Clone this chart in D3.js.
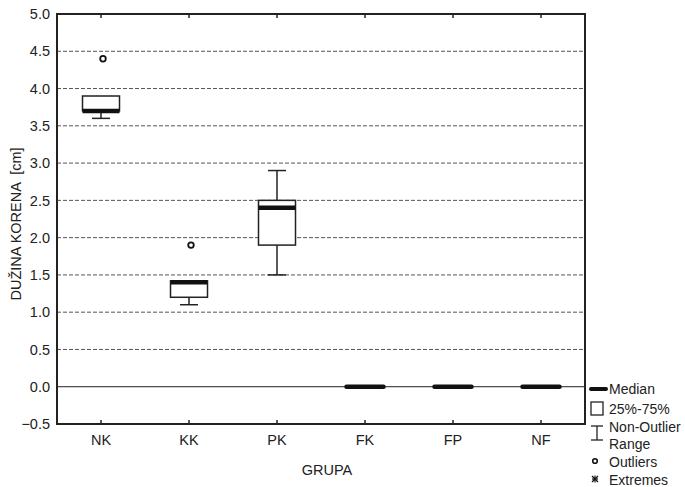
<!DOCTYPE html>
<html>
<head>
<meta charset="utf-8">
<script src="https://cdn.jsdelivr.net/npm/d3@7"></script>
<style>
  body { margin: 0; background: #fff; }
  text { font-family: "Liberation Sans", Arial, sans-serif; fill: #222; }
</style>
</head>
<body>
<div id="chart"></div>
<script>
// box plot data
var groups = ["NK", "KK", "PK", "FK", "FP", "NF"];
var q1 = [3.7, 1.2, 1.9, 0, 0, 0];
var medians = [3.7, 1.4, 2.4, 0, 0, 0];
var q3 = [3.9, 1.42, 2.5, 0, 0, 0];
var whiskerLow = [3.6, 1.1, 1.5, 0, 0, 0];
var whiskerHigh = [3.9, 1.42, 2.9, 0, 0, 0];
var outliers = [[4.4], [1.9], [], [], [], []];
var yTicks = [-0.5, 0, 0.5, 1, 1.5, 2, 2.5, 3, 3.5, 4, 4.5, 5];

var width = 685, height = 487;
var plotLeft = 57, plotRight = 585, plotTop = 14, plotBottom = 424;

var svg = d3.select("#chart").append("svg")
    .attr("width", width)
    .attr("height", height);

var x = d3.scaleBand().domain(groups).range([plotLeft, plotRight]).padding(0);
var y = d3.scaleLinear().domain([-0.5, 5]).range([plotBottom, plotTop]);
var boxW = 37;

// grid lines
svg.append("g").selectAll("line")
    .data(yTicks.filter(d => d > -0.5 && d < 5))
    .enter().append("line")
    .attr("x1", plotLeft).attr("x2", plotRight)
    .attr("y1", d => y(d)).attr("y2", d => y(d))
    .attr("stroke", d => d === 0 ? "#222" : "#555")
    .attr("stroke-width", 1)
    .attr("stroke-dasharray", d => d === 0 ? null : "4,2");

// y axis labels
var yAxis = d3.axisLeft(y).tickValues(yTicks).tickFormat(d3.format(".1f")).tickSize(0).tickPadding(7);
var gy = svg.append("g").attr("transform", "translate(" + plotLeft + ",0)").call(yAxis);
gy.select(".domain").remove();
gy.selectAll("text").style("font-size", "14.5px");

// x axis labels
var xAxis = d3.axisBottom(x).tickSize(0).tickPadding(11);
var gx = svg.append("g").attr("transform", "translate(0," + plotBottom + ")").call(xAxis);
gx.select(".domain").remove();
gx.selectAll("text").style("font-size", "14.5px");

// inner ticks top and bottom
groups.forEach(g => {
    var cx = x(g) + x.bandwidth() / 2;
    svg.append("line").attr("x1", cx).attr("x2", cx).attr("y1", plotBottom).attr("y2", plotBottom - 4)
        .attr("stroke", "#222").attr("stroke-width", 1.5);
    svg.append("line").attr("x1", cx).attr("x2", cx).attr("y1", plotTop).attr("y2", plotTop + 4)
        .attr("stroke", "#222").attr("stroke-width", 1.5);
});

// boxes
groups.forEach((g, i) => {
    var cx = x(g) + x.bandwidth() / 2;
    var gg = svg.append("g");
    if (q3[i] > q1[i]) {
        // whiskers
        gg.append("line").attr("x1", cx).attr("x2", cx)
            .attr("y1", y(whiskerLow[i])).attr("y2", y(q1[i]))
            .attr("stroke", "#222").attr("stroke-width", 1.5);
        gg.append("line").attr("x1", cx).attr("x2", cx)
            .attr("y1", y(whiskerHigh[i])).attr("y2", y(q3[i]))
            .attr("stroke", "#222").attr("stroke-width", 1.5);
        if (whiskerLow[i] < q1[i])
            gg.append("line").attr("x1", cx - 9).attr("x2", cx + 9)
                .attr("y1", y(whiskerLow[i])).attr("y2", y(whiskerLow[i]))
                .attr("stroke", "#222").attr("stroke-width", 1.5);
        if (whiskerHigh[i] > q3[i])
            gg.append("line").attr("x1", cx - 9).attr("x2", cx + 9)
                .attr("y1", y(whiskerHigh[i])).attr("y2", y(whiskerHigh[i]))
                .attr("stroke", "#222").attr("stroke-width", 1.5);
        gg.append("rect")
            .attr("x", cx - boxW / 2).attr("y", y(q3[i]))
            .attr("width", boxW).attr("height", y(q1[i]) - y(q3[i]))
            .attr("fill", "white").attr("stroke", "#222").attr("stroke-width", 1.5);
    }
    gg.append("line").attr("x1", cx - boxW / 2).attr("x2", cx + boxW / 2)
        .attr("y1", y(medians[i])).attr("y2", y(medians[i]))
        .attr("stroke", "#111").attr("stroke-width", 4.5)
        .attr("stroke-linecap", q3[i] > q1[i] ? "butt" : "round");
    outliers[i].forEach(o => {
        gg.append("circle").attr("cx", cx + 2).attr("cy", y(o)).attr("r", 2.8)
            .attr("fill", "white").attr("stroke", "#111").attr("stroke-width", 1.8);
    });
});

// frame
svg.append("rect").attr("x", plotLeft).attr("y", plotTop)
    .attr("width", plotRight - plotLeft).attr("height", plotBottom - plotTop)
    .attr("fill", "none").attr("stroke", "#222").attr("stroke-width", 2);

// axis titles
svg.append("text").attr("x", 327).attr("y", 475).attr("text-anchor", "middle")
    .style("font-size", "14.5px").text("GRUPA");
svg.append("text").attr("transform", "translate(21,224) rotate(-90)")
    .attr("text-anchor", "middle").style("font-size", "14.5px")
    .style("white-space", "pre").text("DUŽINA KORENA  [cm]");

// legend
var lg = svg.append("g");
lg.append("line").attr("x1", 591).attr("x2", 606).attr("y1", 389).attr("y2", 389)
    .attr("stroke", "#111").attr("stroke-width", 4).attr("stroke-linecap", "round");
lg.append("rect").attr("x", 591).attr("y", 402).attr("width", 12).attr("height", 13)
    .attr("fill", "white").attr("stroke", "#222").attr("stroke-width", 1.3);
lg.append("line").attr("x1", 597).attr("x2", 597).attr("y1", 426).attr("y2", 440).attr("stroke", "#222").attr("stroke-width", 1.3);
lg.append("line").attr("x1", 591).attr("x2", 603).attr("y1", 426).attr("y2", 426).attr("stroke", "#222").attr("stroke-width", 1.3);
lg.append("line").attr("x1", 591).attr("x2", 603).attr("y1", 440).attr("y2", 440).attr("stroke", "#222").attr("stroke-width", 1.3);
lg.append("circle").attr("cx", 595).attr("cy", 461).attr("r", 2.3)
    .attr("fill", "white").attr("stroke", "#111").attr("stroke-width", 1.6);
// extremes marker drawn as a small asterisk
var ax = 595, ay = 479;
[[-3, -3, 3, 3], [-3, 3, 3, -3], [0, -3.5, 0, 3.5], [-3, 0, 3, 0]].forEach(s => {
    lg.append("line").attr("x1", ax + s[0]).attr("y1", ay + s[1]).attr("x2", ax + s[2]).attr("y2", ay + s[3])
        .attr("stroke", "#111").attr("stroke-width", 1.2);
});
var legendText = [["Median", 394], ["25%-75%", 414], ["Non-Outlier", 432], ["Range", 449], ["Outliers", 467], ["Extremes", 485]];
legendText.forEach(t => {
    lg.append("text").attr("x", 609).attr("y", t[1]).style("font-size", "14px").text(t[0]);
});
</script>
</body>
</html>
